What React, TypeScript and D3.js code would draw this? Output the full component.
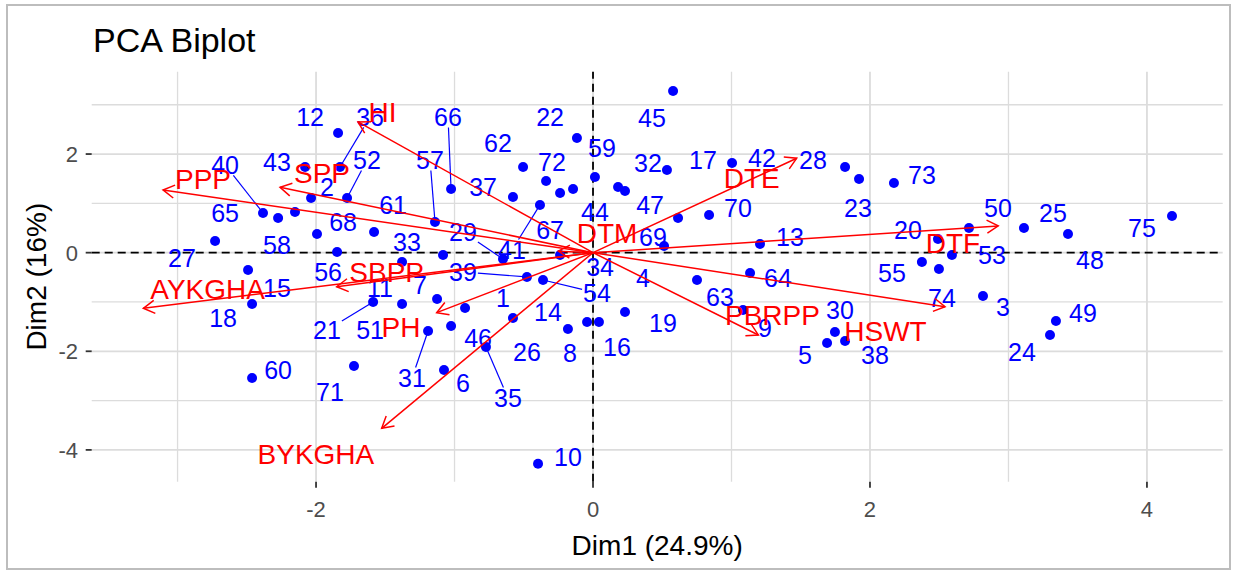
import React from "react";
import * as d3 from "d3";

const W = 1238;
const H = 574;
const FONT = '"Liberation Sans", Arial, Helvetica, sans-serif';

const title = "PCA Biplot";
const xTitle = "Dim1 (24.9%)";
const yTitle = "Dim2 (16%)";

const xTicks = [-2, 0, 2, 4];
const yTicks = [-4, -2, 0, 2];
const xMinor = [-3, -1, 1, 3];
const yMinor = [-3, -1, 1, 3];

// individuals 1..75 : coordinates on Dim1 / Dim2
const indDim1 = [
  -0.924, -2.036, 2.816, -0.238, 1.69, -1.076, -1.126, -0.043, 1.083, -0.397,
  -1.379, -1.841, 1.206, -0.181, -2.491, 0.043, 1.004, -2.462, 0.231, 2.491,
  -1.588, -0.116, 1.921, 3.3, 3.112, -0.578, -2.729, 1.82, -0.65, 1.747,
  -1.191, 0.534, -1.083, -0.144, -0.773, -1.827, -0.578, 1.82, -0.477, -2.383,
  -0.383, 0.231, -2.079, 0.181, 0.578, -1.025, 0.614, 3.43, 3.343, 2.715,
  -1.379, -1.776, 2.592, -0.361, 2.375, -1.848, -1.141, -2.152, 0.014, -2.462,
  -1.581, -0.505, 0.751, 1.134, -2.274, -1.025, -0.238, -1.993, 0.513, 0.838,
  -1.726, -0.339, 2.173, 2.498, 4.181,
];
const indDim2 = [
  -1.122, 1.11, -0.878, -0.047, -1.832, -2.38, -0.939, -1.406, -1.163, -4.28,
  -0.189, 2.428, 0.177, -1.548, -0.351, -1.406, 1.819, -1.041, -1.203, 0.278,
  -1.0, 2.327, 1.495, -1.67, 0.501, -1.325, 0.237, 1.738, -0.128, -1.609,
  -1.588, 1.678, -0.047, 1.292, -1.913, 1.738, 1.13, -1.791, -0.493, 0.805,
  0.968, 1.252, 1.738, 1.333, 3.28, -1.487, 0.704, 0.379, -1.386, 0.501,
  -1.041, 1.11, -0.047, -0.554, -0.189, 0.014, 0.623, 0.826, 1.535, -2.542,
  0.42, 1.738, -0.554, -0.412, 0.704, 1.292, 1.211, 0.379, 0.136, 0.765,
  -2.298, 1.454, 1.414, -0.331, 0.744,
];
// repelled label positions (data units)
const indLabelX = [
  -0.65, -1.921, 2.96, 0.361, 1.531, -0.939, -1.249, -0.166, 1.242, -0.181,
  -1.538, -2.043, 1.422, -0.325, -2.282, 0.173, 0.794, -2.671, 0.505, 2.274,
  -1.921, -0.31, 1.913, 3.097, 3.321, -0.477, -2.968, 1.588, -0.939, 1.783,
  -1.307, 0.397, -1.343, 0.051, -0.614, -1.61, -0.794, 2.036, -0.939, -2.657,
  -0.585, 1.22, -2.282, 0.014, 0.426, -0.83, 0.412, 3.588, 3.538, 2.924,
  -1.61, -1.632, 2.881, 0.029, 2.159, -1.913, -1.177, -2.282, 0.065, -2.274,
  -1.444, -0.686, 0.917, 1.336, -2.657, -1.047, -0.31, -1.805, 0.433, 1.047,
  -1.899, -0.296, 2.375, 2.52, 3.964,
];
const indLabelY = [
  -0.919, 1.333, -1.101, -0.513, -2.075, -2.643, -0.655, -2.034, -1.527, -4.144,
  -0.716, 2.753, 0.318, -1.203, -0.716, -1.913, 1.88, -1.325, -1.426, 0.46,
  -1.568, 2.753, 0.907, -2.014, 0.805, -2.014, -0.108, 1.88, 0.42, -1.162,
  -2.542, 1.819, 0.217, -0.29, -2.947, 2.753, 1.333, -2.075, -0.391, 1.779,
  0.055, 1.921, 1.84, 0.826, 2.732, -1.73, 0.968, -0.148, -1.223, 0.907,
  -1.568, 1.88, -0.047, -0.817, -0.412, -0.391, 1.88, 0.156, 2.124, -2.379,
  0.968, 2.225, -0.899, -0.513, 0.805, 2.753, 0.46, 0.623, 0.318, 0.907,
  -2.826, 1.84, 1.576, -0.919, 0.501,
];
const segmentIds = [21, 29, 31, 35, 36, 39, 40, 41, 52, 54, 57, 66];

// variables
const varNames = ["HI", "PPP", "SPP", "AYKGHA", "SBPP", "PH", "BYKGHA", "DTM", "DTE", "DTF", "PBRPP", "HSWT"];
const varDim1 = [-1.697, -3.105, -2.26, -3.247, -1.851, -1.129, -1.526, -0.25, 1.471, 2.926, 1.194, 2.542];
const varDim2 = [2.651, 1.272, 1.327, -1.128, -0.69, -1.217, -3.562, 0.03, 1.915, 0.542, -1.669, -1.095];
const varLabelX = [-1.52, -2.816, -1.957, -2.783, -1.49, -1.386, -2.001, 0.101, 1.146, 2.599, 1.296, 2.112];
const varLabelY = [2.86, 1.495, 1.627, -0.736, -0.391, -1.507, -4.083, 0.41, 1.525, 0.197, -1.264, -1.588];

const BLUE = "#0000ff";
const RED = "#ff0000";
const GRID = "#dcdcdc";

export default function App() {
  const x = d3.scaleLinear().domain([-3.62, 4.547]).range([91.7, 1222.7]);
  const y = d3.scaleLinear().domain([-4.645, 3.67]).range([481.7, 71.7]);
  const [x0, x1] = x.range();
  const [y0, y1] = y.range();

  const indFs = 25;
  const varFs = 28;

  const inds = d3.range(indDim1.length).map((i) => ({
    id: i + 1,
    px: x(indDim1[i]),
    py: y(indDim2[i]),
    lx: x(indLabelX[i]),
    ly: y(indLabelY[i]),
  }));

  // segment from the label box edge to the point
  const seg = (d: any) => {
    const label = String(d.id);
    const hw = (label.length * 0.556 * indFs) / 2 + 1;
    const hh = 0.42 * indFs;
    const dx = d.px - d.lx;
    const dy = d.py - d.ly;
    const t = Math.min(hw / Math.abs(dx || 1e-6), hh / Math.abs(dy || 1e-6), 1);
    return { x1: d.lx + dx * t, y1: d.ly + dy * t, x2: d.px, y2: d.py };
  };

  const ox = x(0);
  const oy = y(0);
  const vars = varNames.map((n, i) => {
    const tx = x(varDim1[i]);
    const ty = y(varDim2[i]);
    const ang = Math.atan2(ty - oy, tx - ox);
    const len = 13;
    const a = Math.PI / 6;
    return {
      name: n,
      tx,
      ty,
      h1: [tx - len * Math.cos(ang - a), ty - len * Math.sin(ang - a)],
      h2: [tx - len * Math.cos(ang + a), ty - len * Math.sin(ang + a)],
      lx: x(varLabelX[i]),
      ly: y(varLabelY[i]),
    };
  });

  return (
    <svg
      width={W}
      height={H}
      style={{ position: "absolute", left: 0, top: 0, background: "#fff" }}
      fontFamily={FONT}
    >
      <rect x={7} y={5} width={1223} height={564} fill="#fff" stroke="#bdbdbd" strokeWidth={2} />

      {/* grid */}
      {xMinor.map((v) => (
        <line key={"xm" + v} x1={x(v)} x2={x(v)} y1={y0} y2={y1} stroke={GRID} strokeWidth={1.3} />
      ))}
      {yMinor.map((v) => (
        <line key={"ym" + v} x1={x0} x2={x1} y1={y(v)} y2={y(v)} stroke={GRID} strokeWidth={1.3} />
      ))}
      {xTicks.map((v) => (
        <line key={"xg" + v} x1={x(v)} x2={x(v)} y1={y0} y2={y1} stroke={GRID} strokeWidth={1.8} />
      ))}
      {yTicks.map((v) => (
        <line key={"yg" + v} x1={x0} x2={x1} y1={y(v)} y2={y(v)} stroke={GRID} strokeWidth={1.8} />
      ))}

      {/* reference lines */}
      <line x1={ox} x2={ox} y1={y0} y2={y1} stroke="#000" strokeWidth={1.8} strokeDasharray="8,5" />
      <line x1={x0} x2={x1} y1={oy} y2={oy} stroke="#000" strokeWidth={1.8} strokeDasharray="8,5" />

      {/* axes */}
      {xTicks.map((v) => (
        <g key={"xt" + v}>
          <line x1={x(v)} x2={x(v)} y1={y0} y2={y0 + 6} stroke="#333" strokeWidth={1.8} />
          <text x={x(v)} y={517} textAnchor="middle" fontSize={22} fill="#4d4d4d">
            {v}
          </text>
        </g>
      ))}
      {yTicks.map((v) => (
        <g key={"yt" + v}>
          <line x1={x0 - 6} x2={x0} y1={y(v)} y2={y(v)} stroke="#333" strokeWidth={1.8} />
          <text x={78} y={y(v)} dy="0.36em" textAnchor="end" fontSize={22} fill="#4d4d4d">
            {v}
          </text>
        </g>
      ))}

      {/* individuals */}
      {inds
        .filter((d) => segmentIds.includes(d.id))
        .map((d) => {
          const s = seg(d);
          return <line key={"s" + d.id} {...s} stroke={BLUE} strokeWidth={1.2} />;
        })}
      {inds.map((d) => (
        <circle key={"p" + d.id} cx={d.px} cy={d.py} r={5} fill={BLUE} />
      ))}
      {inds.map((d) => (
        <text key={"l" + d.id} x={d.lx} y={d.ly} dy="0.36em" textAnchor="middle" fontSize={indFs} fill={BLUE}>
          {d.id}
        </text>
      ))}

      {/* variables */}
      {vars.map((v) => (
        <g key={v.name} stroke={RED} strokeWidth={1.5} fill="none">
          <line x1={ox} y1={oy} x2={v.tx} y2={v.ty} />
          <polyline points={`${v.h1[0]},${v.h1[1]} ${v.tx},${v.ty} ${v.h2[0]},${v.h2[1]}`} />
        </g>
      ))}
      {vars.map((v) => (
        <text key={"vl" + v.name} x={v.lx} y={v.ly} dy="0.36em" textAnchor="middle" fontSize={varFs} fill={RED}>
          {v.name}
        </text>
      ))}

      {/* titles */}
      <text x={93} y={52} fontSize={34} fill="#000">
        {title}
      </text>
      <text x={(x0 + x1) / 2} y={555} textAnchor="middle" fontSize={28} fill="#000">
        {xTitle}
      </text>
      <text
        transform={`translate(46, ${(y0 + y1) / 2}) rotate(-90)`}
        textAnchor="middle"
        fontSize={28}
        fill="#000"
      >
        {yTitle}
      </text>
    </svg>
  );
}
